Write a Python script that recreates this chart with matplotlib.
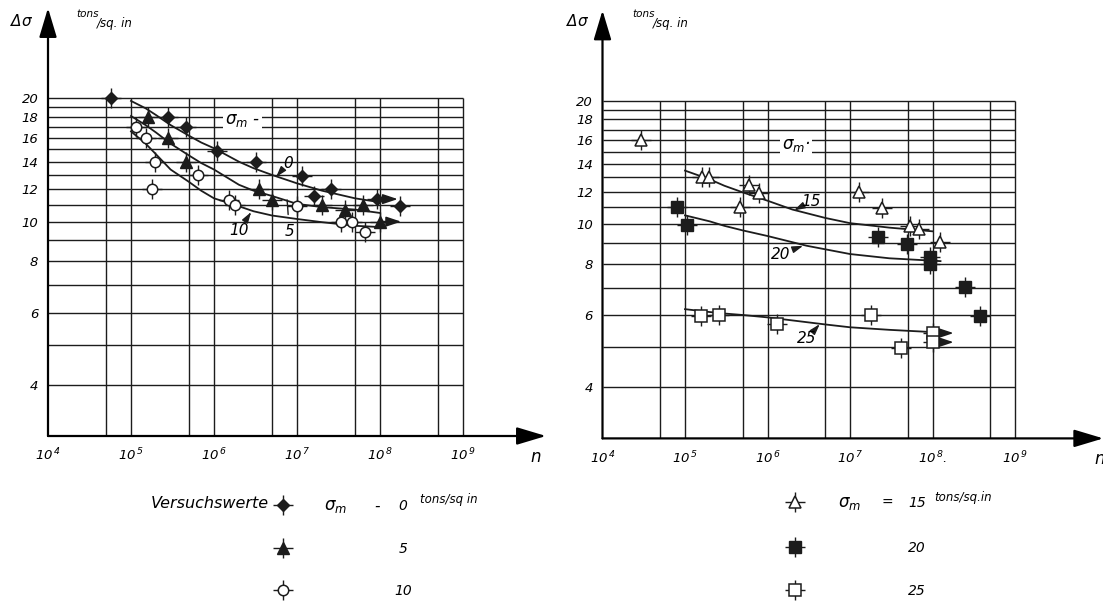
"""
Woehler diagrams: stress range vs. cycles for mean stresses 0..25 tons/sq.in
Output: out.png
"""

import numpy as np
import matplotlib.pyplot as plt
from matplotlib.ticker import NullLocator, NullFormatter

plt.rcParams['font.family'] = 'DejaVu Sans'
plt.rcParams['font.style'] = 'italic'
plt.rcParams['mathtext.fontset'] = 'dejavusans'
plt.rcParams['mathtext.default'] = 'it'

INK = '#1c1c1c'
W, H = 1103, 603

# ---- test values, left panel (sigma_m = 0, 5, 10) ----
n_s0   = [5.8e4, 2.8e5, 4.6e5, 1.1e6, 3.2e6, 1.15e7, 1.6e7, 2.6e7, 9.1e7, 1.74e8]
ds_s0  = [20.0, 18.0, 17.0, 14.9, 14.0, 12.9, 11.55, 12.0, 11.35, 10.9]
run_s0 = [0, 0, 0, 0, 0, 0, 0, 0, 1, 0]

n_s5   = [1.6e5, 2.8e5, 4.6e5, 3.5e6, 5.0e6, 2.0e7, 3.8e7, 6.3e7, 1.0e8]
ds_s5  = [18.0, 16.0, 14.0, 12.0, 11.3, 11.0, 10.65, 11.0, 10.0]
run_s5 = [0, 0, 0, 0, 0, 0, 0, 0, 1]

n_s10  = [1.15e5, 1.52e5, 1.97e5, 1.77e5, 6.5e5, 1.5e6, 1.8e6, 1.0e7, 3.4e7, 4.6e7, 6.6e7]
ds_s10 = [17.0, 16.0, 14.0, 12.0, 13.0, 11.3, 11.0, 10.9, 10.0, 10.0, 9.45]

# ---- test values, right panel (sigma_m = 15, 20, 25) ----
n_s15  = [2.9e4, 1.59e5, 1.97e5, 4.6e5, 5.9e5, 7.8e5, 1.29e7, 2.47e7, 5.35e7, 6.8e7, 1.22e8]
ds_s15 = [16.0, 13.0, 13.0, 11.0, 12.45, 11.9, 12.0, 10.95, 9.9, 9.72, 9.03]

n_s20  = [8.1e4, 1.07e5, 2.18e7, 4.95e7, 9.3e7, 9.3e7, 2.5e8, 3.77e8]
ds_s20 = [11.0, 9.95, 9.32, 8.94, 8.33, 7.97, 7.04, 5.98]

n_s25   = [1.57e5, 2.55e5, 1.31e6, 1.8e7, 4.2e7, 1.0e8, 1.0e8]
ds_s25  = [5.98, 6.0, 5.69, 6.0, 4.98, 5.42, 5.15]
run_s25 = [0, 0, 0, 0, 0, 1, 1]

# ---- mean curves ----
n_fit_l  = [1e5, 1.5e5, 2e5, 3e5, 5e5, 7e5, 1e6, 2e6, 3e6, 5e6, 1e7, 2e7, 5e7, 1e8]
fit_s0   = [19.7, 18.9, 18.2, 17.2, 16.2, 15.6, 15.1, 14.0, 13.5, 13.0, 12.4, 11.9, 11.4, 11.15]
fit_s5   = [18.1, 17.2, 16.5, 15.5, 14.5, 13.9, 13.4, 12.3, 11.9, 11.55, 11.05, 10.85, 10.7, 10.5]
fit_s10  = [16.6, 15.5, 14.6, 13.4, 12.5, 11.9, 11.4, 10.9, 10.6, 10.35, 10.15, 9.97, 9.77, 9.7]

n_fit_r  = [1e5, 2e5, 3e5, 5e5, 1e6, 2e6, 5e6, 1e7, 3e7, 1e8]
fit_s15  = [13.5, 12.85, 12.4, 11.95, 11.4, 10.85, 10.35, 10.05, 9.8, 9.6]
fit_s25  = [6.2, 6.1, 6.05, 6.0, 5.92, 5.82, 5.69, 5.6, 5.52, 5.45]
n_fit_r20 = [1e5, 2e5, 3e5, 5e5, 1e6, 3e6, 1e7, 3e7, 1.25e8]
fit_s20   = [10.5, 10.15, 9.9, 9.65, 9.35, 8.85, 8.45, 8.25, 8.12]

# ---- axes / grid ----
y_ticks    = [4, 6, 8, 10, 12, 14, 16, 18, 20]
grid_y     = list(range(4, 21))
grid_x     = [5e4, 1e5, 5e5, 1e6, 5e6, 1e7, 5e7, 1e8, 5e8, 1e9]
x_dec      = [1e4, 1e5, 1e6, 1e7, 1e8, 1e9]
x_labels   = ['10$^{\\,4}$', '10$^{\\,5}$', '10$^{\\,6}$', '10$^{\\,7}$',
              '10$^{\\,8}$', '10$^{\\,9}$']
x_labels_r = x_labels[:4] + ['10$^{\\,8}$.'] + x_labels[5:]
Y0, Y1 = 3.0, 33.2

MARK = {
    'diamond': dict(marker='D', ms=6, mfc=INK, mec=INK),
    'tri':     dict(marker='^', ms=8, mfc=INK, mec=INK),
    'circle':  dict(marker='o', ms=7.5, mfc='white', mec=INK, mew=1.1),
    'otri':    dict(marker='^', ms=8, mfc='white', mec=INK, mew=1.1),
    'square':  dict(marker='s', ms=8.5, mfc=INK, mec=INK),
    'osquare': dict(marker='s', ms=8, mfc='white', mec=INK, mew=1.1),
}


def px_box(l, t, r, b):
    return [l / W, 1 - b / H, (r - l) / W, (b - t) / H]


def plot_marks(ax, x, y, kind):
    ax.plot(x, y, ls='none', marker='+', ms=14, mew=1.0, color=INK, zorder=4)
    ax.plot(x, y, ls='none', zorder=5, **MARK[kind])


def runouts(ax, x, y, flags):
    for xi, yi, f in zip(x, y, flags):
        if f:
            ax.annotate('', xy=(xi * 1.8, yi), xytext=(xi, yi),
                        arrowprops=dict(arrowstyle='-|>,head_length=0.9,head_width=0.3',
                                        mutation_scale=10, lw=1.2, color=INK,
                                        shrinkA=0, shrinkB=0), zorder=3)


def frame(ax, xmax, xlabels):
    ax.set_xscale('log')
    ax.set_yscale('log')
    ax.set_xlim(1e4, xmax)
    ax.set_ylim(Y0, Y1)
    for s in ax.spines.values():
        s.set_visible(False)
    ax.patch.set_alpha(0)
    ax.hlines(grid_y, 1e4, 1e9, color=INK, lw=1.0, zorder=1)
    ax.vlines(grid_x, Y0, 20, color=INK, lw=1.0, zorder=1)
    head = dict(arrowstyle='-|>,head_length=1.5,head_width=0.45', mutation_scale=12,
                lw=1.6, color='black', shrinkA=0, shrinkB=0)
    ax.annotate('', xy=(1, 0), xytext=(0, 0), xycoords='axes fraction', arrowprops=head)
    ax.annotate('', xy=(0, 1), xytext=(0, 0), xycoords='axes fraction', arrowprops=head)
    ax.set_xticks(x_dec, xlabels)
    ax.set_yticks(y_ticks, [str(v) for v in y_ticks])
    for axis in (ax.xaxis, ax.yaxis):
        axis.set_minor_locator(NullLocator())
        axis.set_minor_formatter(NullFormatter())
    ax.tick_params(axis='x', length=0, pad=8, labelsize=9.5)
    ax.tick_params(axis='y', length=0, pad=7, labelsize=9.5)


def curve_label(ax, txt, tip, pos, arrow=True):
    style = '-|>,head_length=0.8,head_width=0.25' if arrow else '-'
    ax.annotate(txt, xy=tip, xytext=pos, fontsize=11, ha='center', va='center',
                arrowprops=dict(arrowstyle=style, mutation_scale=8, lw=1.0, color=INK,
                                shrinkA=5, shrinkB=0), zorder=6)


fig = plt.figure(figsize=(W / 100, H / 100), dpi=100)

# ---------------- left panel ----------------
axl = fig.add_axes(px_box(48, 8, 546, 436))
frame(axl, 1e10, x_labels)
for xs, ys in [(n_fit_l, fit_s0), (n_fit_l, fit_s5), (n_fit_l, fit_s10)]:
    axl.plot(xs, ys, color=INK, lw=1.3, zorder=2)
plot_marks(axl, n_s0, ds_s0, 'diamond')
plot_marks(axl, n_s5, ds_s5, 'tri')
plot_marks(axl, n_s10, ds_s10, 'circle')
runouts(axl, n_s0, ds_s0, run_s0)
runouts(axl, n_s5, ds_s5, run_s5)
axl.text(2.2e6, 17.7, '$\\sigma_m$ -', fontsize=12, ha='center', va='center',
         bbox=dict(fc='white', ec='none', pad=1.5), zorder=6)
curve_label(axl, '0', (5.6e6, 12.85), (7.8e6, 13.9))
curve_label(axl, '5', (7.6e6, 11.3), (8.1e6, 9.45), arrow=False)
curve_label(axl, '10', (2.8e6, 10.55), (2.0e6, 9.5))

# ---------------- right panel ----------------
axr = fig.add_axes(px_box(602.5, 10.4, 1103.3, 438.4))
frame(axr, 10 ** 10.07, x_labels_r)
for xs, ys in [(n_fit_r, fit_s15), (n_fit_r20, fit_s20), (n_fit_r, fit_s25)]:
    axr.plot(xs, ys, color=INK, lw=1.3, zorder=2)
plot_marks(axr, n_s15, ds_s15, 'otri')
plot_marks(axr, n_s20, ds_s20, 'square')
plot_marks(axr, n_s25, ds_s25, 'osquare')
runouts(axr, n_s25, ds_s25, run_s25)
axr.text(2.2e6, 15.6, '$\\sigma_m$·', fontsize=12, ha='center', va='center',
         bbox=dict(fc='white', ec='none', pad=1.5), zorder=6)
curve_label(axr, '15', (2.1e6, 10.8), (3.4e6, 11.35))
curve_label(axr, '20', (2.7e6, 8.85), (1.45e6, 8.45))
curve_label(axr, '25', (4.3e6, 5.7), (3.0e6, 5.25))

# ---------------- overlay: axis titles and key ----------------
lay = fig.add_axes([0, 0, 1, 1])
lay.set_xlim(0, W)
lay.set_ylim(H, 0)
lay.axis('off')
lay.set_zorder(-1)

for x0 in (0, 556):
    lay.text(x0 + 22, 21, '$\\Delta\\sigma$', fontsize=11, ha='center', va='center')
    lay.text(x0 + 76, 14, 'tons', fontsize=7.5, ha='left', va='center')
    lay.text(x0 + 97, 23, '/sq. in', fontsize=8.5, ha='left', va='center')
lay.text(536, 457, 'n', fontsize=12, ha='center', va='center')
lay.text(1100, 459, 'n', fontsize=12, ha='center', va='center')

lay.text(210, 504, 'Versuchswerte', fontsize=11.5, ha='center', va='center')

key_left = [('diamond', '0'), ('tri', '5'), ('circle', '10')]
key_right = [('otri', '15'), ('square', '20'), ('osquare', '25')]
for (kind, lab), yy in zip(key_left, [505, 548, 590]):
    lay.plot([283], [yy], ls='none', marker='+', ms=14, mew=1.0, color=INK)
    lay.plot([283], [yy], ls='none', **MARK[kind])
    lay.text(403, yy + 1, lab, fontsize=10, ha='center', va='center')
for (kind, lab), yy in zip(key_right, [502, 547, 590]):
    lay.plot([795], [yy], ls='none', marker='+', ms=14, mew=1.0, color=INK)
    lay.plot([795], [yy], ls='none', **MARK[kind])
    lay.text(917, yy + 1, lab, fontsize=10, ha='center', va='center')

lay.text(336, 506, '$\\sigma_m$', fontsize=12, ha='center', va='center')
lay.text(377, 506, '-', fontsize=11, ha='center', va='center')
lay.text(420, 500, 'tons/sq in', fontsize=8.5, ha='left', va='center')
lay.text(850, 503, '$\\sigma_m$', fontsize=12, ha='center', va='center')
lay.text(887, 503, '=', fontsize=10, ha='center', va='center')
lay.text(934, 497, 'tons/sq.in', fontsize=8.5, ha='left', va='center')

fig.savefig('out.png', dpi=100, facecolor='white')
